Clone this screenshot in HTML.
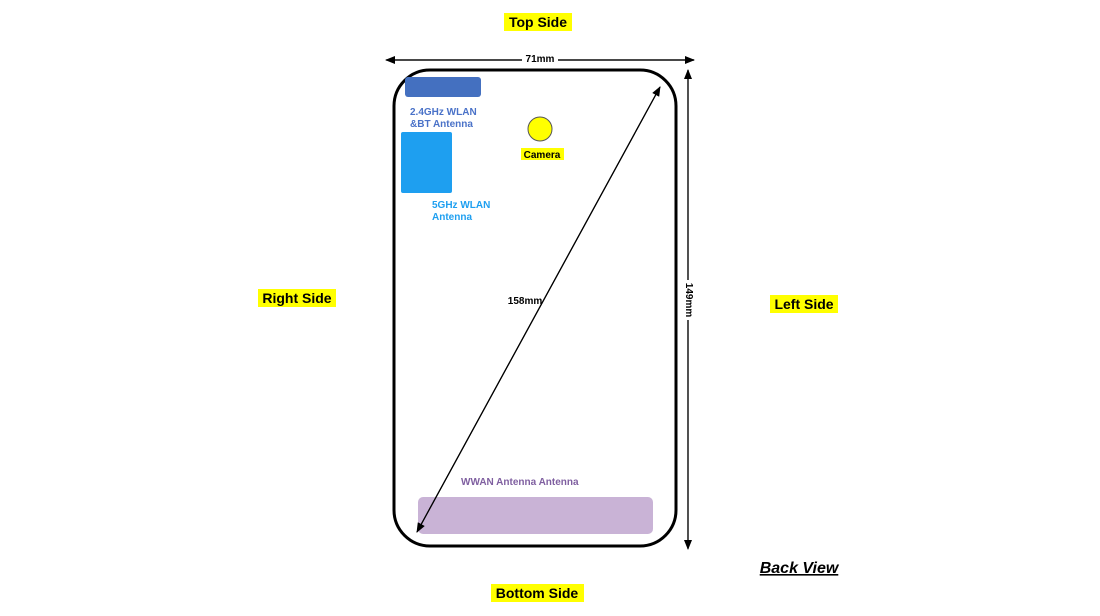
<!DOCTYPE html>
<html><head><meta charset="utf-8"><style>
html,body{margin:0;padding:0;background:#fff;}
svg{display:block;font-family:"Liberation Sans",Arial,sans-serif;}
</style></head><body>
<svg width="1100" height="616" viewBox="0 0 1100 616" xmlns="http://www.w3.org/2000/svg">
<defs>
<marker id="ah" markerWidth="10" markerHeight="8" refX="9" refY="4" orient="auto" markerUnits="userSpaceOnUse">
<path d="M0,0 L10,4 L0,8 Z" fill="#000"/></marker>
</defs>
<rect x="504" y="13" width="68" height="18" fill="#ffff00"/>
<text x="538" y="27" font-size="14" font-weight="bold" text-anchor="middle">Top Side</text>
<rect x="258" y="289" width="78" height="18" fill="#ffff00"/>
<text x="297" y="303" font-size="14" font-weight="bold" text-anchor="middle">Right Side</text>
<rect x="770" y="295" width="68" height="18" fill="#ffff00"/>
<text x="804" y="309" font-size="14" font-weight="bold" text-anchor="middle">Left Side</text>
<rect x="491" y="584" width="93" height="18" fill="#ffff00"/>
<text x="537" y="598" font-size="14" font-weight="bold" text-anchor="middle">Bottom Side</text>
<text x="799" y="573" font-size="16" font-weight="bold" font-style="italic" text-anchor="middle" text-decoration="underline">Back View</text>
<rect x="394" y="70" width="282" height="476" rx="36" ry="36" fill="none" stroke="#000" stroke-width="3"/>
<line x1="388" y1="60" x2="694" y2="60" stroke="#000" stroke-width="1.2" marker-end="url(#ah)"/>
<line x1="694" y1="60" x2="386" y2="60" stroke="#000" stroke-width="1.2" marker-end="url(#ah)"/>
<rect x="522" y="52" width="36" height="12" fill="#fff"/>
<text x="540" y="62" font-size="10" font-weight="bold" text-anchor="middle">71mm</text>
<line x1="688" y1="548" x2="688" y2="70" stroke="#000" stroke-width="1.2" marker-end="url(#ah)"/>
<line x1="688" y1="70" x2="688" y2="549" stroke="#000" stroke-width="1.2" marker-end="url(#ah)"/>
<rect x="684" y="280" width="10" height="40" fill="#fff"/>
<text transform="translate(686,300) rotate(90)" font-size="10" font-weight="bold" text-anchor="middle">149mm</text>
<rect x="405" y="77" width="76" height="20" rx="3" fill="#4470c0"/>
<text x="410" y="115" font-size="10" font-weight="bold" fill="#4a72c8">2.4GHz WLAN</text>
<text x="410" y="127" font-size="10" font-weight="bold" fill="#4a72c8">&amp;BT Antenna</text>
<rect x="401" y="132" width="51" height="61" rx="2" fill="#1e9ff0"/>
<text x="432" y="208" font-size="10" font-weight="bold" fill="#1e9ff0">5GHz WLAN</text>
<text x="432" y="220" font-size="10" font-weight="bold" fill="#1e9ff0">Antenna</text>
<circle cx="540" cy="129" r="12" fill="#ffff00" stroke="#555" stroke-width="1"/>
<rect x="521" y="148" width="43" height="12" fill="#ffff00"/>
<text x="542" y="158" font-size="10" font-weight="bold" text-anchor="middle">Camera</text>
<rect x="418" y="497" width="235" height="37" rx="5" fill="#c9b3d6"/>
<text x="461" y="485" font-size="10" font-weight="bold" fill="#7f5fa0">WWAN Antenna Antenna</text>
<line x1="417" y1="532" x2="660" y2="87" stroke="#000" stroke-width="1.2" marker-end="url(#ah)"/>
<line x1="660" y1="87" x2="417" y2="532" stroke="#000" stroke-width="1.2" marker-end="url(#ah)"/>
<text x="525" y="304" font-size="10" font-weight="bold" text-anchor="middle">158mm</text>
</svg>
</body></html>
